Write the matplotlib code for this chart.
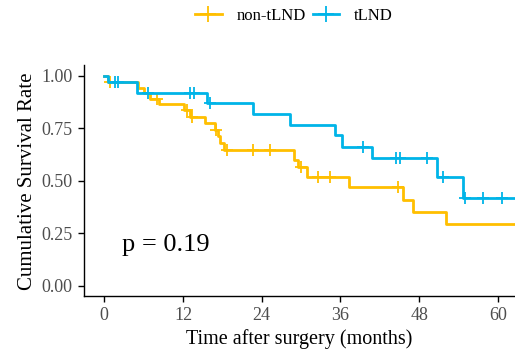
import numpy as np
import matplotlib.pyplot as plt
from matplotlib.lines import Line2D

plt.rcParams["font.family"] = ["Liberation Serif", "DejaVu Serif"]

# Kaplan-Meier steps: event times (months) and survival after each drop
non_tlnd_times = [0, 0.6, 5.2, 6.0, 7.0, 8.3, 12.1, 13.1, 15.4, 16.9, 17.4, 17.6, 18.2,
                  28.9, 29.6, 30.9, 37.3, 45.6, 47.0, 52.1, 64.0]
non_tlnd_surv = [1.0, 0.973, 0.945, 0.917, 0.89, 0.865, 0.838, 0.806, 0.775, 0.743, 0.712,
                 0.68, 0.648, 0.60, 0.568, 0.52, 0.47, 0.41, 0.354, 0.295, 0.295]
non_tlnd_censor = [0.9, 8.0, 12.6, 13.3, 17.1, 18.7, 22.7, 25.2, 30.0, 32.6, 34.4, 44.7]

tlnd_times = [0, 0.5, 5.0, 15.6, 22.7, 28.3, 35.2, 36.2, 40.8, 50.7, 54.7, 64.0]
tlnd_surv = [1.0, 0.973, 0.917, 0.87, 0.82, 0.767, 0.72, 0.663, 0.611, 0.52, 0.417, 0.417]
tlnd_censor = [1.6, 2.1, 6.7, 13.1, 13.6, 16.1, 39.5, 44.4, 45.1, 49.2, 51.6, 55.0, 57.7, 60.6]

groups = ["non-tLND", "tLND"]
colors = ["#FFBF00", "#00B4E8"]


def surv_at(times, surv, t):
    i = np.searchsorted(times, t, side="right") - 1
    return surv[i]


fig = plt.figure(figsize=(5.15, 3.52), dpi=100)
ax = fig.add_axes([0.163, 0.158, 0.837, 0.656])

data = [(non_tlnd_times, non_tlnd_surv, non_tlnd_censor),
        (tlnd_times, tlnd_surv, tlnd_censor)]
handles = []
for (times, surv, cens), col, name in zip(data, colors, groups):
    ax.step(times, surv, where="post", color=col, linewidth=2.0)
    cy = [surv_at(times, surv, c) for c in cens]
    ax.plot(cens, cy, ls="none", marker="+", color=col, markersize=9, markeredgewidth=1.3)
    handles.append(Line2D([], [], color=col, linewidth=2.0, marker="+",
                          markersize=11, markeredgewidth=1.3, label=name))

ax.set_xlim(-3.1, 62.6)
ax.set_ylim(-0.05, 1.05)
ax.set_xticks([0, 12, 24, 36, 48, 60])
ax.set_yticks([0, 0.25, 0.5, 0.75, 1.0])
ax.set_yticklabels(["0.00", "0.25", "0.50", "0.75", "1.00"])
for s in ["top", "right"]:
    ax.spines[s].set_visible(False)
for s in ["left", "bottom"]:
    ax.spines[s].set_linewidth(1.0)
ax.tick_params(length=4, width=1.0, labelsize=13, labelcolor="#4D4D4D", pad=4)
ax.set_xlabel("Time after surgery (months)", fontsize=14.5, labelpad=3)
ax.set_ylabel("Cumulative Survival Rate", fontsize=15, labelpad=3)

ax.text(2.7, 0.195, "p = 0.19", fontsize=19, ha="left", va="center")

fig.legend(handles=handles, loc="center", bbox_to_anchor=(0.571, 0.955), ncol=2,
           frameon=False, fontsize=12, handlelength=1.6, handletextpad=0.9,
           columnspacing=0.4)

fig.savefig("out.png", dpi=100)
